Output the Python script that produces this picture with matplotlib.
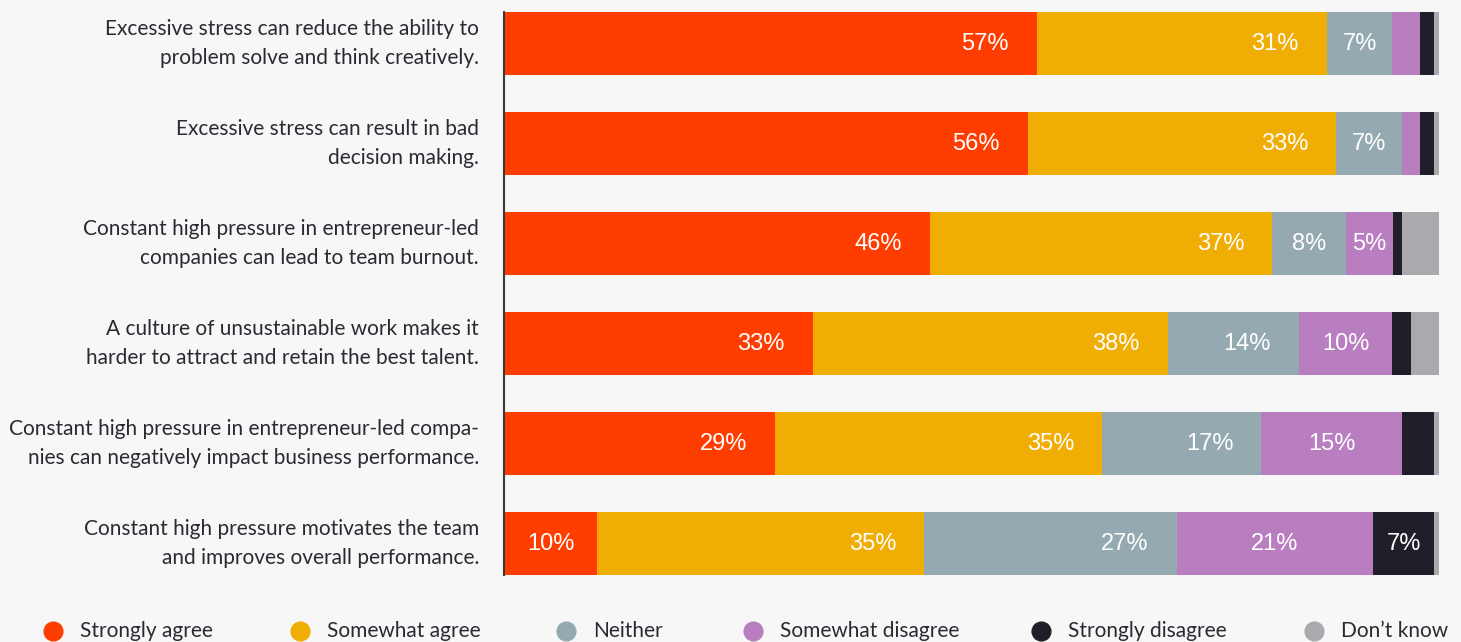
import matplotlib
matplotlib.use("Agg")
import matplotlib.pyplot as plt
from matplotlib.lines import Line2D
import numpy as np

# ── Data ──────────────────────────────────────────────────────
statements = [
    "Excessive stress can reduce the ability to\nproblem solve and think creatively.",
    "Excessive stress can result in bad\ndecision making.",
    "Constant high pressure in entrepreneur-led\ncompanies can lead to team burnout.",
    "A culture of unsustainable work makes it\nharder to attract and retain the best talent.",
    "Constant high pressure in entrepreneur-led compa-\nnies can negatively impact business performance.",
    "Constant high pressure motivates the team\nand improves overall performance.",
]
answers = ["Strongly agree", "Somewhat agree", "Neither",
           "Somewhat disagree", "Strongly disagree", "Don\u2019t know"]

strongly_agree    = [57, 56, 46, 33, 29, 10]
somewhat_agree    = [31, 33, 37, 38, 35, 35]
neither           = [7, 7, 8, 14, 17, 27]
somewhat_disagree = [3, 2, 5, 10, 15, 21]
strongly_disagree = [1.5, 1.5, 1, 2, 3.5, 6.6]
dont_know         = [0.5, 0.5, 4, 3, 0.5, 0.5]

# ── Style ─────────────────────────────────────────────────────
W, H    = 1461, 642
BG      = "#f7f7f7"
TXT     = "#2b2a33"
COLORS  = ["#ff3d00", "#f0ad04", "#95aab0", "#b87ec0", "#201f29", "#aaa9ae"]
ALIGN   = ["end", "end", "end", "center", "center", "center"]
FONT    = "Lato"
LEG_X   = [53, 300, 566, 753, 1041, 1314]   # legend marker centres (px)

series = np.array([strongly_agree, somewhat_agree, neither,
                   somewhat_disagree, strongly_disagree, dont_know], dtype=float)
shares = series / series.sum(axis=0) * 100

fig = plt.figure(figsize=(W / 100, H / 100), dpi=100, facecolor=BG)
ax = fig.add_axes([504 / W, 1 - 575 / H, 935 / W, 563 / H])
ax.set_facecolor(BG)

y = np.arange(len(statements))
left = np.zeros(len(statements))
for i, (vals, raw) in enumerate(zip(shares, series)):
    ax.barh(y, vals, left=left, height=0.63, color=COLORS[i], linewidth=0)
    for j, (v, r) in enumerate(zip(vals, raw)):
        if r >= 5:
            end = left[j] + v
            if ALIGN[i] == "end" and v >= 10:
                ax.text(end - 3.0, y[j], f"{r:.0f}%", ha="right", va="center",
                        color="white", fontsize=17, family="Liberation Sans")
            else:
                ax.text(left[j] + v / 2, y[j], f"{r:.0f}%", ha="center", va="center",
                        color="white", fontsize=17, family="Liberation Sans")
    left += vals

ax.set_xlim(0, 100)
ax.set_ylim(5.315, -0.315)
ax.set_xticks([])
ax.set_yticks(y)
ax.set_yticklabels(statements, fontsize=15.0, color=TXT, family=FONT,
                   linespacing=1.58, ha="right")
for lab in ax.get_yticklabels():
    lab.set_va("center")
ax.tick_params(axis="y", length=0, pad=18)
for side in ["top", "right", "bottom"]:
    ax.spines[side].set_visible(False)
ax.spines["left"].set_color("#3a3a3a")
ax.spines["left"].set_linewidth(1.5)

# ── Legend (placed by hand to match the original spacing) ────
ly = 1 - 631 / H
for x, c, lab in zip(LEG_X, COLORS, answers):
    fig.add_artist(Line2D([x / W], [ly], marker="o", linestyle="none",
                          markersize=13.5, markerfacecolor=c, markeredgecolor=c,
                          transform=fig.transFigure))
    fig.text((x + 27) / W, ly, lab, ha="left", va="center", color=TXT,
             fontsize=15.0, family=FONT)

fig.savefig("out.png", dpi=100, facecolor=BG)
